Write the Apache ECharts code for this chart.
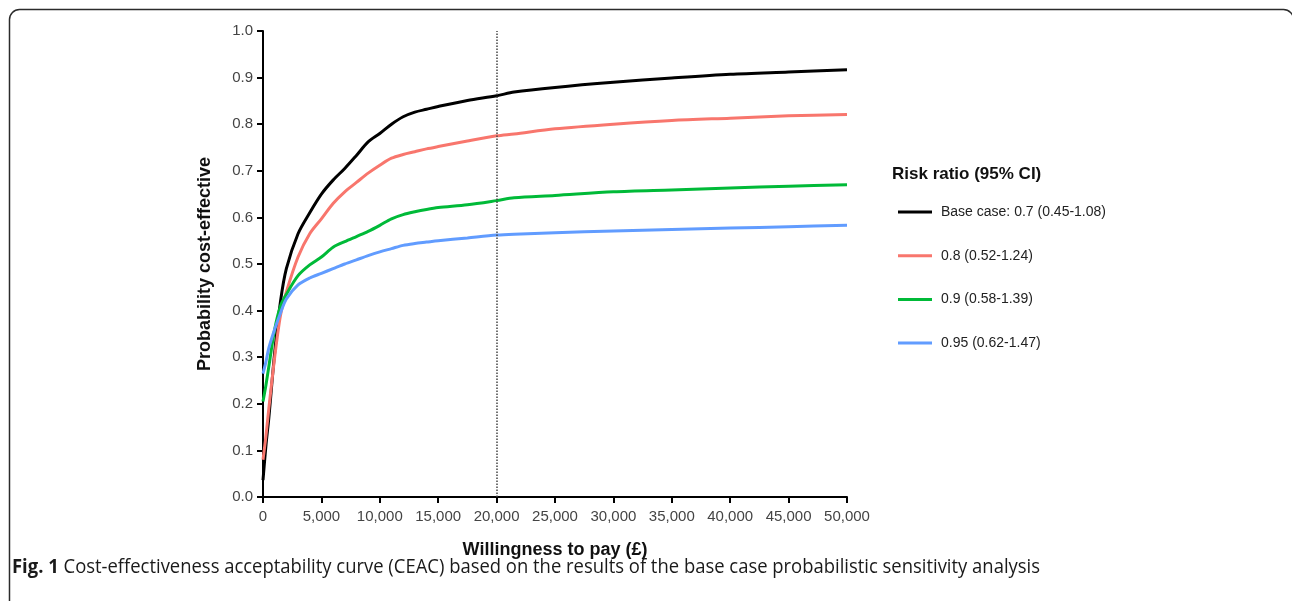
<!DOCTYPE html>
<html>
<head>
<meta charset="utf-8">
<script src="https://cdn.jsdelivr.net/npm/echarts@6/dist/echarts.min.js"></script>
<style>
  html, body { margin: 0; padding: 0; background: #fff; }
  #main { width: 1292px; height: 601px; }
</style>
</head>
<body>
<div id="main"></div>
<script>
// willingness to pay (GBP) and probability cost-effective
const wtp = [0, 250, 500, 1000, 1500, 2000, 3000, 4000, 5000, 6000, 7000, 8000, 9000, 10000,
  11000, 12000, 13000, 14000, 15000, 17500, 20000, 21500, 25000, 30000, 35000, 40000, 45000, 50000];
const baseCase = [0.036, 0.11, 0.17, 0.31, 0.42, 0.49, 0.565, 0.61, 0.65, 0.68, 0.705, 0.733, 0.762, 0.78,
  0.80, 0.816, 0.826, 0.832, 0.838, 0.851, 0.861, 0.869, 0.879, 0.890, 0.899, 0.907, 0.912, 0.917];
const rr08 = [0.08, 0.13, 0.19, 0.30, 0.39, 0.44, 0.515, 0.565, 0.597, 0.63, 0.655, 0.675, 0.695, 0.712,
  0.727, 0.735, 0.741, 0.747, 0.752, 0.764, 0.775, 0.779, 0.790, 0.800, 0.808, 0.813, 0.818, 0.821];
const rr09 = [0.205, 0.24, 0.28, 0.36, 0.41, 0.435, 0.475, 0.498, 0.515, 0.536, 0.548, 0.559, 0.57, 0.583,
  0.597, 0.606, 0.612, 0.617, 0.621, 0.627, 0.636, 0.642, 0.647, 0.655, 0.659, 0.663, 0.667, 0.670];
const rr095 = [0.265, 0.29, 0.32, 0.36, 0.395, 0.425, 0.455, 0.47, 0.48, 0.49, 0.5, 0.509, 0.518, 0.526,
  0.533, 0.54, 0.544, 0.547, 0.55, 0.556, 0.562, 0.564, 0.567, 0.571, 0.574, 0.577, 0.580, 0.583];
const seriesNames = ['Base case: 0.7 (0.45-1.08)', '0.8 (0.52-1.24)', '0.9 (0.58-1.39)', '0.95 (0.62-1.47)'];
const seriesColors = ['#000000', '#F8766D', '#00BA38', '#619CFF'];
const threshold = 20000;

const captionBold = 'Fig. 1';
const captionText = ' Cost-effectiveness acceptability curve (CEAC) based on the results of the base case probabilistic sensitivity analysis';

const pairs = ys => wtp.map((x, i) => [x, ys[i]]);
const allY = [baseCase, rr08, rr09, rr095];

// squeeze caption to the width it has in the figure
const capFont = '"Open Sans", sans-serif';
const capSize = 20;
const ctx = document.createElement('canvas').getContext('2d');
ctx.font = 'bold ' + capSize + 'px ' + capFont;
let capW = ctx.measureText(captionBold).width;
ctx.font = capSize + 'px ' + capFont;
capW += ctx.measureText(captionText).width;
const capScale = 1028 / capW;

const chart = echarts.init(document.getElementById('main'));

const option = {
  animation: false,
  backgroundColor: '#fff',
  textStyle: { fontFamily: 'Arial, "Liberation Sans", sans-serif' },
  title: {
    text: 'Risk ratio (95% CI)',
    left: 887,
    top: 161,
    textStyle: { fontSize: 17, fontWeight: 'bold', color: '#111' }
  },
  legend: {
    orient: 'vertical',
    left: 893,
    top: 199,
    icon: 'rect',
    itemWidth: 34,
    itemHeight: 3,
    itemGap: 27.7,
    data: seriesNames,
    textStyle: { fontSize: 14, color: '#222', lineHeight: 16, padding: [0, 0, 0, 4] }
  },
  grid: { left: 263, right: 445, top: 31, bottom: 104 },
  xAxis: {
    type: 'value',
    min: 0,
    max: 50000,
    interval: 5000,
    name: 'Willingness to pay (£)',
    nameLocation: 'middle',
    nameGap: 44,
    nameTextStyle: { fontSize: 18, fontWeight: 'bold', color: '#111' },
    splitLine: { show: false },
    axisLine: { lineStyle: { color: '#000', width: 2 } },
    axisTick: { length: 6, lineStyle: { color: '#000', width: 2 } },
    axisLabel: {
      fontSize: 15, color: '#444', margin: 12,
      formatter: v => v.toLocaleString('en-US')
    }
  },
  yAxis: {
    type: 'value',
    min: 0,
    max: 1,
    interval: 0.1,
    name: 'Probability cost-effective',
    nameLocation: 'middle',
    nameGap: 49,
    nameTextStyle: { fontSize: 18, fontWeight: 'bold', color: '#111' },
    splitLine: { show: false },
    axisLine: { show: true, lineStyle: { color: '#000', width: 2 } },
    axisTick: { show: true, length: 6, lineStyle: { color: '#000', width: 2 } },
    axisLabel: {
      fontSize: 15, color: '#444', margin: 10,
      formatter: v => v.toFixed(1)
    }
  },
  series: seriesNames.map((name, i) => ({
    name: name,
    type: 'line',
    data: pairs(allY[i]),
    showSymbol: false,
    symbol: 'none',
    smooth: 0.3,
    color: seriesColors[i],
    lineStyle: { width: 3, color: seriesColors[i] },
    z: 2,
    markLine: i === 0 ? {
      silent: true,
      symbol: 'none',
      label: { show: false },
      lineStyle: { type: 'dotted', color: '#444', width: 1.5 },
      data: [{ xAxis: threshold }]
    } : undefined
  })),
  graphic: [
    {
      type: 'rect',
      shape: { x: 9.5, y: 9.5, width: 1284, height: 700, r: 10 },
      style: { fill: 'none', stroke: '#2b2b2b', lineWidth: 1.5 },
      silent: true
    },
    {
      type: 'text',
      x: 12,
      y: 567,
      scaleX: capScale,
      style: {
        text: '{b|' + captionBold + '}{r|' + captionText + '}',
        verticalAlign: 'middle',
        rich: {
          b: { fontFamily: capFont, fontSize: capSize, fontWeight: 'bold', fill: '#1a1a1a' },
          r: { fontFamily: capFont, fontSize: capSize, fill: '#1a1a1a' }
        }
      }
    }
  ]
};

chart.setOption(option);
</script>
</body>
</html>
